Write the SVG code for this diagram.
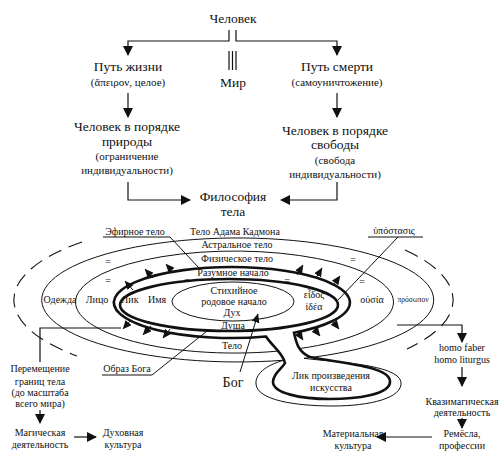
<svg xmlns="http://www.w3.org/2000/svg" width="502" height="458" viewBox="0 0 502 458" font-family="'Liberation Serif', 'DejaVu Serif', serif">
<style>
text{font-family:'Liberation Serif','DejaVu Serif',serif;fill:#111;text-anchor:middle}
.t13{font-size:13.5px}
.t11{font-size:11px}
.t10{font-size:10px}
.t8{font-size:7.5px}
.ln{fill:none;stroke:#111;stroke-width:1.2}
.thin{fill:none;stroke:#111;stroke-width:1}
.thick{fill:none;stroke:#111;stroke-width:2.6}
.dash{fill:none;stroke:#111;stroke-width:1.1;stroke-dasharray:14 8}
</style>
<defs>
<marker id="ah" markerWidth="10" markerHeight="10" refX="9" refY="5" orient="auto" markerUnits="userSpaceOnUse"><path d="M0,0 L10,5 L0,10 z" fill="#111"/></marker>
<marker id="as" markerWidth="9" markerHeight="8" refX="8.5" refY="4" orient="auto" markerUnits="userSpaceOnUse"><path d="M0,0 L9,4 L0,8 z" fill="#111"/></marker>
</defs>

<g id="n-chelovek"><text class="t13" x="233" y="23">Человек</text></g>
<g id="n-put-zhizni"><text class="t13" x="128" y="71">Путь жизни</text><text class="t11" x="128" y="86">(ἄπειρον, целое)</text></g>
<g id="n-mir"><text class="t13" x="233" y="87">Мир</text></g>
<g id="n-put-smerti"><text class="t13" x="337" y="71">Путь смерти</text><text class="t11" x="337" y="86">(самоуничтожение)</text></g>
<g id="n-priroda"><text class="t13" x="127" y="131">Человек в порядке</text><text class="t13" x="127" y="146">природы</text><text class="t11" x="127" y="160">(ограничение</text><text class="t11" x="127" y="174">индивидуальности)</text></g>
<g id="n-svoboda"><text class="t13" x="335" y="135">Человек в порядке</text><text class="t13" x="335" y="149">свободы</text><text class="t11" x="335" y="164">(свобода</text><text class="t11" x="335" y="178">индивидуальности)</text></g>
<g id="n-filosofia"><text class="t13" x="233" y="201">Философия</text><text class="t13" x="233" y="216">тела</text></g>

<g id="rings">
<path class="dash" d="M82,242 A220,80 0 0 0 77,356"/>
<path class="dash" d="M405,250 A220,80 0 0 1 407,349"/>
<path class="thin" d="M284,360.2 A196,62 0 1 1 304,358.3 C332,362 398,364 401,382 C403,398 370,406 333,406 C295,406 257,400 256,384 C255,372 270,364 284,360.2"/>
<path class="thin" d="M277,351.2 A159,51 0 1 1 299.5,348.6"/>
<path class="thick" d="M266,336.5 A118,35.5 0 1 1 294,332.7 C296,342 298,352 310,357 C340,363 389,366 390,381 C391,395 355,399 330,399 C300,399 273,393 273,382 C273,373 282,369 285,363 C283,353 272,346 266,336.5 Z"/>
<ellipse class="thick" cx="229" cy="305" rx="109" ry="26"/>
<ellipse class="thin" cx="233" cy="301.5" rx="61" ry="19.5"/>
</g>

<g id="ring-labels">
<text class="t10" x="135" y="235">Эфирное тело</text>
<text class="t10" x="235" y="235">Тело Адама Кадмона</text>
<text class="t10" x="394" y="234">ὑπόστασις</text>
<text class="t10" x="237" y="248">Астральное тело</text>
<text class="t10" x="237" y="262">Физическое тело</text>
<text class="t10" x="233" y="276">Разумное начало</text>
<text class="t10" x="234" y="294">Стихийное</text>
<text class="t10" x="234" y="305">родовое начало</text>
<text class="t10" x="232" y="316">Дух</text>
<text class="t10" x="233" y="329">Душа</text>
<text class="t10" x="232" y="349">Тело</text>
<text class="t10" x="60" y="303">Одежда</text>
<text class="t10" x="97" y="303">Лицо</text>
<text class="t10" x="130" y="303">Лик</text>
<text class="t10" x="157" y="303">Имя</text>
<text class="t10" x="314" y="298">εἶδος</text>
<text class="t10" x="314" y="310">ἰδέα</text>
<text class="t10" x="372" y="303">οὐσία</text>
<text class="t8" x="413" y="302">πρόσωπον</text>
<text class="t10" x="108" y="265">=</text>
<text class="t10" x="108" y="284">=</text>
<text class="t10" x="187" y="284">=</text>
<text class="t10" x="287" y="284">=</text>
<text class="t10" x="353" y="263">=</text>
<text class="t10" x="362" y="285">=</text>
<text class="t10" x="127" y="372">Образ Бога</text>
<text x="233" y="387" style="font-size:14px">Бог</text>
<text class="t10" x="331" y="379">Лик произведения</text>
<text class="t10" x="331" y="391">искусства</text>
</g>

<g id="n-peremeshchenie"><text class="t10" x="40" y="372">Перемещение</text><text class="t10" x="40" y="385">границ тела</text><text class="t10" x="40" y="396">(до масштаба</text><text class="t10" x="40" y="407">всего мира)</text></g>
<g id="n-magicheskaya"><text class="t10" x="40" y="436">Магическая</text><text class="t10" x="40" y="448">деятельность</text></g>
<g id="n-dukhovnaya"><text class="t10" x="123" y="436">Духовная</text><text class="t10" x="123" y="448">культура</text></g>
<g id="n-homo"><text class="t10" x="462" y="351">homo faber</text><text class="t10" x="462" y="363">homo liturgus</text></g>
<g id="n-kvazi"><text class="t10" x="462" y="405">Квазимагическая</text><text class="t10" x="462" y="416">деятельность</text></g>
<g id="n-remesla"><text class="t10" x="462" y="437">Ремёсла,</text><text class="t10" x="462" y="449">профессии</text></g>
<g id="n-materialnaya"><text class="t10" x="353" y="437">Материальная</text><text class="t10" x="353" y="449">культура</text></g>

<g id="connectors">
<path class="ln" d="M229,30 V41 H128 V55" marker-end="url(#ah)"/>
<path class="ln" d="M236,30 V41 H337 V55" marker-end="url(#ah)"/>
<path class="ln" d="M229,51 V70 M232.5,51 V70 M236,51 V70"/>
<path class="ln" d="M128,93 V117" marker-end="url(#ah)"/>
<path class="ln" d="M337,93 V117" marker-end="url(#ah)"/>
<path class="ln" d="M128,182 V200 H190" marker-end="url(#ah)"/>
<path class="ln" d="M337,182 V200 H281" marker-end="url(#ah)"/>
<path class="thin" d="M103,237 H170 L199,268"/>
<path class="thin" d="M368,237 H423 M398,237 L338,300"/>
<path class="thin" d="M102,375 H152 L207,331"/>
<path class="thin" d="M240,372 L258,314" marker-end="url(#as)"/>
<path class="thin" d="M133,290 L125,281" marker-end="url(#as)"/>
<path class="thin" d="M153,278 L145,269" marker-end="url(#as)"/>
<path class="thin" d="M174,273 L166,264" marker-end="url(#as)"/>
<path class="thin" d="M297,275 L303,265" marker-end="url(#as)"/>
<path class="thin" d="M316,278 L322,268" marker-end="url(#as)"/>
<path class="thin" d="M333,286 L340,276" marker-end="url(#as)"/>
<path class="thin" d="M131,320 L123,329" marker-end="url(#as)"/>
<path class="thin" d="M151,326 L143,335" marker-end="url(#as)"/>
<path class="thin" d="M170,329 L163,338" marker-end="url(#as)"/>
<path class="thin" d="M297,331 L303,340" marker-end="url(#as)"/>
<path class="thin" d="M313,327 L320,336" marker-end="url(#as)"/>
<path class="thin" d="M332,320 L339,329" marker-end="url(#as)"/>
<path class="ln" d="M121,328 H40 V362"/>
<path class="ln" d="M40,410 V423" marker-end="url(#ah)"/>
<path class="ln" d="M74,437 H96" marker-end="url(#ah)"/>
<path class="ln" d="M397,325 H462 V342" marker-end="url(#ah)"/>
<path class="ln" d="M462,367 V386" marker-end="url(#ah)"/>
<path class="ln" d="M462,418 V428" marker-end="url(#ah)"/>
<path class="ln" d="M432,437 H377" marker-end="url(#ah)"/>
</g>
</svg>
